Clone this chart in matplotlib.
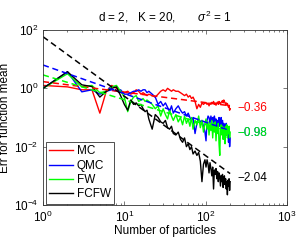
import numpy as np
import matplotlib
matplotlib.use("Agg")
import matplotlib.pyplot as plt

plt.rcParams['font.family'] = ['Liberation Sans', 'DejaVu Sans']
plt.rcParams['mathtext.fontset'] = 'custom'
plt.rcParams['mathtext.rm'] = 'Liberation Sans'
plt.rcParams['mathtext.it'] = 'Liberation Sans:italic'

x = [1,2,3,4,5,6,7,8,9,10,11,12,13,14,15,16,17,18,19,20,
     22,24,26,28,30,32,34,36,38,40,
     43,46,49,52,55,58,61,64,67,70,
     74,78,82,86,90,94,98,
     101,104,107,110,113,116,119,122,125,128,131,134,137,140,143,146,149,152,155,158,
     161,164,167,170,173,176,179,182,185,188,191,194,197,200]

# log10 of the error for each method
mc_log = [0.1,0.05,-0.05,-0.05,-0.85,-0.1,0.1,0.0,-0.1,-0.15,-0.1,-0.2,-0.15,-0.05,-0.1,-0.2,-0.15,-0.2,-0.25,-0.2,
          -0.25,-0.3,-0.2,-0.1,-0.05,-0.1,0.0,-0.05,-0.1,-0.05,
          -0.1,-0.1,-0.15,-0.2,-0.25,-0.2,-0.3,-0.25,-0.35,-0.3,
          -0.45,-0.7,-0.55,-0.65,-0.5,-0.55,-0.5,
          -0.5,-0.55,-0.5,-0.6,-0.5,-0.55,-0.48,-0.52,-0.45,-0.55,-0.5,-0.58,-0.5,-0.47,-0.55,-0.45,-0.5,-0.55,-0.48,-0.45,
          -0.42,-0.5,-0.4,-0.45,-0.5,-0.55,-0.5,-0.58,-0.52,-0.6,-0.65,-0.58,-0.75,-0.7]
qmc_log = [0.0,0.57,-0.12,-0.05,-0.2,-0.1,-0.05,-0.1,-0.05,-0.2,-0.2,-0.15,-0.1,-0.1,-0.05,-0.1,-0.05,-0.05,-0.15,-0.1,
           -0.2,-0.3,-0.55,-0.45,-0.6,-0.5,-0.65,-0.8,-0.6,-0.85,
           -0.7,-0.6,-0.75,-0.85,-0.8,-0.95,-0.85,-1.0,-1.1,-1.0,
           -1.55,-1.2,-1.05,-1.15,-1.1,-1.3,-1.5,
           -1.8,-1.1,-0.95,-1.0,-1.2,-0.95,-1.1,-1.0,-1.3,-0.95,-1.15,-1.05,-1.4,-1.1,-1.2,-1.0,-1.3,-1.15,-1.0,-1.25,
           -1.1,-1.35,-1.2,-1.5,-1.25,-1.4,-1.2,-1.6,-1.35,-1.5,-1.85,-1.4,-2.0,-1.7]
fw_log = [0.0,0.5,0.05,0.1,-0.15,-0.1,0.05,0.1,-0.1,-0.3,-0.8,-0.45,-0.3,-0.25,-0.45,-0.4,-0.35,-0.45,-0.4,-0.45,
          -0.55,-0.7,-0.6,-0.95,-0.7,-0.9,-1.05,-0.75,-0.95,-1.1,
          -0.9,-1.15,-1.0,-1.25,-0.95,-1.2,-1.05,-1.3,-1.0,-1.4,
          -1.1,-1.25,-0.95,-1.35,-1.1,-1.5,-1.2,
          -1.05,-1.4,-1.15,-1.6,-1.2,-1.45,-1.1,-1.7,-1.2,-1.5,-1.15,-1.8,-1.3,-1.55,-1.2,-1.9,-2.3,-1.4,-1.25,-1.6,
          -1.3,-1.75,-1.35,-1.5,-1.9,-1.3,-1.6,-1.25,-1.7,-1.4,-1.55,-1.3,-1.7,-1.5]
fcfw_log = [0.0,0.57,0.12,0.06,-0.3,-0.1,0.0,0.05,-0.25,-0.55,-0.75,-0.4,-0.55,-0.5,-0.6,-0.55,-0.7,-0.8,-0.75,-1.05,
            -1.4,-0.9,-1.0,-1.15,-1.2,-1.1,-1.35,-1.4,-1.3,-1.55,
            -1.6,-1.5,-1.75,-1.85,-1.7,-2.0,-1.9,-2.1,-2.0,-2.25,
            -2.15,-2.3,-2.2,-2.5,-3.2,-2.6,-2.45,
            -2.7,-2.45,-2.6,-2.9,-2.55,-2.75,-3.0,-2.7,-3.45,-2.8,-2.95,-2.75,-3.1,-2.85,-3.2,-2.9,-3.0,-3.35,-3.0,-3.2,
            -2.95,-3.4,-3.1,-3.0,-3.3,-3.1,-3.45,-3.2,-3.65,-3.15,-3.35,-3.1,-3.5,-3.2]

# fitted lines: log10(err) = intercept + slope*log10(n)
fit_intercepts = [0.23, 0.80, 0.46, 1.77]
fit_slopes = [-0.36, -0.98, -0.85, -2.04]
slope_labels = ['\u22120.36', '\u22120.98', '\u22120.98', '\u22122.04']
label_logy = [-0.67, -1.53, -1.53, -3.07]

names = ['MC', 'QMC', 'FW', 'FCFW']
colors = ['#ff0000', '#0000ff', '#00ff00', '#000000']
series = [mc_log, qmc_log, fw_log, fcfw_log]

fig = plt.figure(figsize=(2.99, 2.42), dpi=100)
ax = fig.add_axes([43/299, 1-205/242, 244/299, 175/242])

xa = np.array(x, dtype=float)
for s, c, n in zip(series, colors, names):
    ax.plot(xa, 10**np.array(s), color=c, lw=1.0, label=n)

xf = np.array([1.0, 200.0])
for a, b, c in zip(fit_intercepts, fit_slopes, colors):
    ax.plot(xf, 10**(a + b*np.log10(xf)), color=c, lw=1.1, ls=(0, (4, 2.5)))

for lab, ly, c in zip(slope_labels, label_logy, colors):
    ax.text(243, 10**ly, lab, color=c, fontsize=8.5, va='center', ha='left')

ax.set_xscale('log')
ax.set_yscale('log')
ax.set_xlim(1, 1000)
ax.set_ylim(1e-4, 1e2)
ax.set_yticks([1e-4, 1e-2, 1e0, 1e2])
ax.yaxis.set_minor_locator(matplotlib.ticker.NullLocator())
ax.tick_params(which='both', direction='in', top=True, right=True, labelsize=8.5, width=0.5, color='#444444')
ax.tick_params(which='major', length=3)
ax.tick_params(which='minor', length=1.5)
for sp in ax.spines.values():
    sp.set_linewidth(0.6)
    sp.set_color('#333333')

ax.set_xlabel('Number of particles', fontsize=8.5, labelpad=0)
ax.set_ylabel('Err for function mean', fontsize=8.5, labelpad=2)
ax.set_title('d = 2,   K = 20,       $\\sigma^2$ = 1', fontsize=8.5, pad=6)

leg = ax.legend(loc='lower left', bbox_to_anchor=(0.012, 0.006), borderaxespad=0,
                fontsize=8.5, fancybox=False, framealpha=1, edgecolor='#333333',
                handlelength=2.0, handletextpad=0.3, labelspacing=0.2, borderpad=0.3)
leg.get_frame().set_linewidth(0.6)

fig.savefig('out.png', dpi=100)
